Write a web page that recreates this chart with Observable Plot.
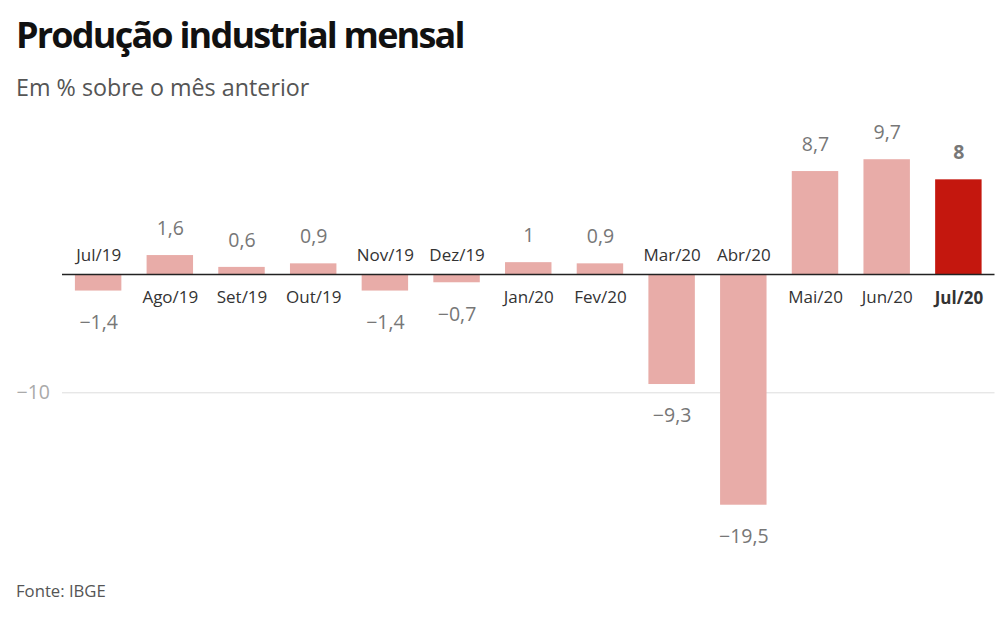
<!DOCTYPE html>
<html><head><meta charset="utf-8">
<script src="https://cdn.jsdelivr.net/npm/d3@7"></script>
<script src="https://cdn.jsdelivr.net/npm/@observablehq/plot@0.6"></script>
<style>
body{margin:0;background:#fff;font-family:"Open Sans",sans-serif;}
#wrap{position:relative;width:1008px;height:632px;overflow:hidden;}
.t{position:absolute;left:16px;line-height:1;white-space:nowrap;}
#title{top:17.3px;font-size:36px;font-weight:700;letter-spacing:-1.8px;color:#111;}
#sub{top:76px;font-size:23.3px;color:#555;}
#cap{top:583px;font-size:16.7px;color:#555;}
#chart{position:absolute;left:0;top:110px;}
</style></head>
<body><div id="wrap">
<div class="t" id="title">Produção industrial mensal</div>
<div class="t" id="sub">Em % sobre o mês anterior</div>
<div id="chart"></div>
<div class="t" id="cap">Fonte: IBGE</div>
</div>
<script>
const months = ["Jul/19","Ago/19","Set/19","Out/19","Nov/19","Dez/19","Jan/20","Fev/20","Mar/20","Abr/20","Mai/20","Jun/20","Jul/20"];
const values = [-1.4, 1.6, 0.6, 0.9, -1.4, -0.7, 1, 0.9, -9.3, -19.5, 8.7, 9.7, 8];
const highlight = "Jul/20";
const yTicks = [-10];

const data = months.map((m, i) => ({month: m, value: values[i], hi: m === highlight}));
const fmt = v => (v < 0 ? "\u2212" : "") + String(Math.abs(v)).replace(".", ",");

const norm = data.filter(d => !d.hi), hi = data.filter(d => d.hi);
const pos = a => a.filter(d => d.value >= 0), neg = a => a.filter(d => d.value < 0);

const chart = Plot.plot({
  width: 1008, height: 470,
  marginLeft: 62, marginRight: 13.5, marginTop: 0, marginBottom: 0,
  style: {fontFamily: "Open Sans", background: "transparent"},
  x: {domain: months, paddingInner: 0.352, paddingOuter: 0.18, round: false, axis: null},
  y: {domain: [-22, 12], range: [424.3, 22.0], axis: null},
  marks: [
    Plot.gridY(yTicks, {stroke: "#ddd", strokeOpacity: 1, strokeWidth: 1}),
    Plot.text(yTicks, {y: d => d, frameAnchor: "left", dx: -12.5, textAnchor: "end", text: d => fmt(d), fill: "#aaa", fontSize: 19.5, lineAnchor: "middle"}),
    Plot.barY(data, {x: "month", y: "value", fill: d => d.hi ? "#c4170e" : "#e8aca8"}),
    Plot.ruleY([0], {stroke: "#222", strokeWidth: 1.5}),
    // value labels
    Plot.text(pos(norm), {x: "month", y: "value", text: d => fmt(d.value), dy: -27, lineAnchor: "middle", fill: "#777", fontSize: 19.5}),
    Plot.text(neg(norm), {x: "month", y: "value", text: d => fmt(d.value), dy: 31.5, lineAnchor: "middle", fill: "#777", fontSize: 19.5}),
    Plot.text(hi, {x: "month", y: "value", text: d => fmt(d.value), dy: -27, lineAnchor: "middle", fill: "#777", fontSize: 19.5, fontWeight: 700}),
    // category labels
    Plot.text(pos(norm), {x: "month", y: () => 0, text: "month", dy: 23, lineAnchor: "middle", fill: "#333", fontSize: 17}),
    Plot.text(neg(norm), {x: "month", y: () => 0, text: "month", dy: -18.5, lineAnchor: "middle", fill: "#333", fontSize: 17}),
    Plot.text(hi, {x: "month", y: () => 0, text: "month", dy: 24.5, lineAnchor: "middle", fill: "#333", fontSize: 17, fontWeight: 700})
  ]
});
document.getElementById("chart").appendChild(chart);
</script>
</body></html>
